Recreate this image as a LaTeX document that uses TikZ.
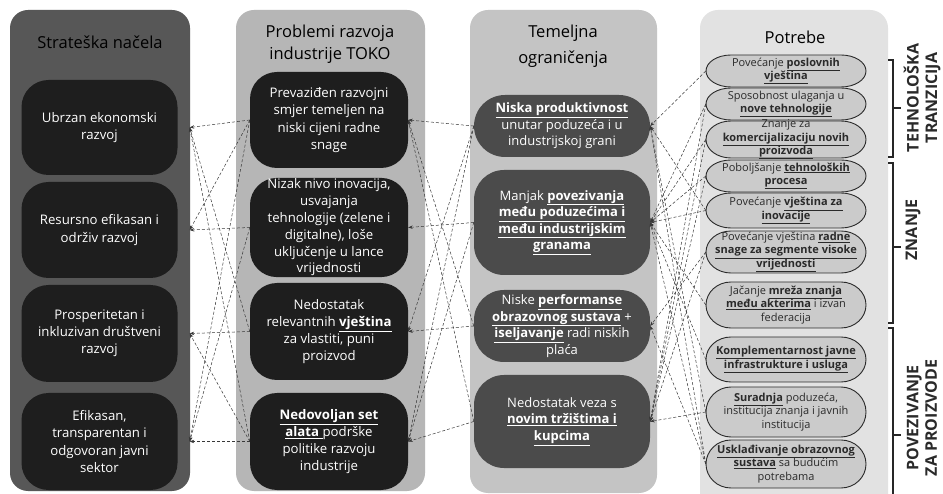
\documentclass[tikz,border=0pt]{standalone}
\usepackage{fontspec}
\setmainfont{Open Sans}
\usetikzlibrary{arrows.meta}
\definecolor{panA}{HTML}{575757}
\definecolor{panB}{HTML}{B6B6B6}
\definecolor{panC}{HTML}{C4C4C4}
\definecolor{panD}{HTML}{E2E2E2}
\definecolor{nodeK}{HTML}{1E1E1E}
\definecolor{nodeM}{HTML}{4B4B4B}
\definecolor{ellF}{HTML}{CBCBCB}
\definecolor{txtD}{HTML}{2A2A2A}
\newcommand\ubf[1]{\textbf{\underline{#1}}}
\newcommand\pillshape[2]{%
  \path[eshape] (731,{#1-#2/2}) -- (841,{#1-#2/2})
    arc[start angle=-90,end angle=90,x radius=25,y radius={#2/2}]
    -- (731,{#1+#2/2})
    arc[start angle=90,end angle=270,x radius=25,y radius={#2/2}] -- cycle;}
\begin{document}
\begin{tikzpicture}[x=1pt,y=-1pt,
  panel/.style={rounded corners=18pt},
  ttl/.style={align=center,font=\fontsize{16.5}{22}\selectfont,text=black},
  darkbox/.style={fill=nodeK,text=white,rounded corners=27pt,align=center,
    minimum width=156pt,inner sep=1pt,font=\fontsize{13.2}{17.2}\selectfont},
  midbox/.style={fill=nodeM,text=white,rounded corners=30pt,align=center,
    minimum width=176pt,inner sep=1pt,font=\fontsize{13}{16.5}\selectfont},
  eshape/.style={fill=ellF,draw=txtD,line width=0.9pt},
  etext/.style={align=center,text=txtD,minimum width=160pt,inner sep=0pt,
    font=\fontsize{11}{13.4}\selectfont},
  con/.style={draw=black!78,line width=0.5pt,densely dashed,
    -{Stealth[length=4.5pt,width=3.4pt]}},
  brk/.style={draw=black!85,line width=1.1pt},
  side/.style={align=center,rotate=90,text=txtD,
    font=\fontsize{16}{18.5}\selectfont\bfseries}]
\useasboundingbox (0,0) rectangle (943,494);
\fill[white] (0,0) rectangle (943,494);
% panels
\fill[panel,panA] (10,10) rectangle (190,491);
\fill[panel,panB] (236,10) rectangle (425,491);
\fill[panel,panC] (470,10) rectangle (657,493);
\fill[panel,panD] (700,10) rectangle (888,512);
% titles
\node[ttl] (t1) at (100,42) {Strateška načela};
\node[ttl] (t2) at (330,44) {Problemi razvoja\\industrije TOKO};
\node[ttl,font=\fontsize{16.5}{26}\selectfont] (t3) at (563,46) {Temeljna\\ograničenja};
\node[ttl] (t4) at (795,37) {Potrebe};
% column 1
\node[darkbox,minimum height=95pt] (c1n1) at (99.5,127.5) {Ubrzan ekonomski\\razvoj};
\node[darkbox,minimum height=96pt] (c1n2) at (99.5,230) {Resursno efikasan i\\održiv razvoj};
\node[darkbox,minimum height=97pt] (c1n3) at (99.5,333.5) {Prosperitetan i\\inkluzivan društveni\\razvoj};
\node[darkbox,minimum height=97pt] (c1n4) at (99.5,441.5) {Efikasan,\\transparentan i\\odgovoran javni\\sektor};
% column 2
\node[darkbox,minimum width=158pt,minimum height=96pt] (c2n1) at (329,120) {Prevaziđen razvojni\\smjer temeljen na\\niski cijeni radne\\snage};
\node[darkbox,minimum width=158pt,minimum height=99pt,font=\fontsize{13.2}{16.8}\selectfont] (c2n2) at (329,227.5) {Nizak nivo inovacija,\\usvajanja\\tehnologije (zelene i\\digitalne), loše\\uključenje u lance\\vrijednosti};
\node[darkbox,minimum width=158pt,minimum height=97pt] (c2n3) at (329,331.5) {Nedostatak\\relevantnih \ubf{vještina}\\za vlastiti, puni\\proizvod};
\node[darkbox,minimum width=158pt,minimum height=97pt] (c2n4) at (329,441.5) {\ubf{Nedovoljan set}\\\ubf{alata }podrške\\politike razvoju\\industrije};
% column 3
\node[midbox,minimum height=62pt,rounded corners=31pt] (c3n1) at (562,126) {\ubf{Niska produktivnost}\\unutar poduzeća i u\\industrijskoj grani};
\node[midbox,minimum height=105pt] (c3n2) at (562,222.5) {Manjak \ubf{povezivanja}\\\ubf{među poduzećima i}\\\ubf{među industrijskim}\\\ubf{granama}};
\node[midbox,minimum height=72pt] (c3n3) at (562,326) {Niske \ubf{performanse}\\\ubf{obrazovnog sustava} +\\\ubf{iseljavanje} radi niskih\\plaća};
\node[midbox,minimum height=93pt] (c3n4) at (562,421.5) {Nedostatak veza s\\\ubf{novim tržištima i}\\\ubf{kupcima}};
% column 4 shapes
\pillshape{71}{32}
\pillshape{104}{32}
\pillshape{139.5}{37}
\pillshape{176}{32}
\pillshape{210.5}{35}
\pillshape{252}{42}
\pillshape{305}{46}
\pillshape{359.5}{45}
\pillshape{412}{50}
\pillshape{464}{48}
% column 4 texts
\node[etext] (e1) at (786,71) {Povećanje \ubf{poslovnih}\\\ubf{vještina}};
\node[etext] (e2) at (786,104) {Sposobnost ulaganja u\\\ubf{nove tehnologije}};
\node[etext] (e3) at (786,139.5) {Znanje za\\\ubf{komercijalizaciju novih}\\\ubf{proizvoda}};
\node[etext] (e4) at (786,176) {Poboljšanje \ubf{tehnoloških}\\\ubf{procesa}};
\node[etext] (e5) at (786,210.5) {Povećanje \ubf{vještina za}\\\ubf{inovacije}};
\node[etext] (e6) at (786,252) {Povećanje vještina \ubf{radne}\\\ubf{snage za segmente visoke}\\\ubf{vrijednosti}};
\node[etext] (e7) at (786,305) {Jačanje \ubf{mreža znanja}\\\ubf{među akterima} i izvan\\federacija};
\node[etext] (e8) at (786,359.5) {\ubf{Komplementarnost javne}\\\ubf{infrastrukture i usluga}};
\node[etext] (e9) at (786,412) {\ubf{Suradnja} poduzeća,\\institucija znanja i javnih\\institucija};
\node[etext] (e10) at (786,464) {\ubf{Usklađivanje obrazovnog}\\\ubf{sustava} sa budućim\\potrebama};
% brackets
\coordinate (b1a) at (888,60);  \coordinate (b1b) at (888,157);
\coordinate (b2a) at (888,163); \coordinate (b2b) at (888,323);
\coordinate (b3a) at (888,328); \coordinate (b3b) at (893,500);
\draw[brk] (b1a) -| (893,157) -- (b1b);
\draw[brk] (893,108) -- (901,108);
\draw[brk] (b2a) -| (893,323) -- (b2b);
\draw[brk] (893,247) -- (901,247);
\draw[brk] (b3a) -| (b3b);
\draw[brk] (893,435) -- (901,435);
\node[side] (s1) at (922,98) {TEHNOLOŠKA\\TRANZICIJA};
\node[side] (s2) at (913,230) {ZNANJE};
\node[side] (s3) at (922,418) {POVEZIVANJE\\ZA PROIZVODE};
% connectors col2 -> col1
\foreach \a/\b in {c2n1/c1n1,c2n1/c1n2,c2n1/c1n4,c2n2/c1n2,c2n2/c1n4,
  c2n3/c1n1,c2n3/c1n3,c2n4/c1n1,c2n4/c1n3,c2n4/c1n4}
  \draw[con] (\a.west) -- ([xshift=12pt]\b.east);
% connectors col3 -> col2
\foreach \a/\b in {c3n1/c2n1,c3n1/c2n3,c3n1/c2n4,c3n2/c2n2,c3n2/c2n4,
  c3n3/c2n1,c3n3/c2n3,c3n4/c2n1,c3n4/c2n4}
  \draw[con] (\a.west) -- (\b.east);
% connectors col4 -> col3
\foreach \a/\b in {e1/c3n1,e5/c3n1,e9/c3n1,e10/c3n1,
  e2/c3n2,e3/c3n2,e4/c3n2,e5/c3n2,e7/c3n2,e8/c3n2,e10/c3n2,
  e6/c3n3,e10/c3n3,
  e2/c3n4,e3/c3n4,e4/c3n4,e6/c3n4,e9/c3n4}
  \draw[con] (\a.west) -- (\b.east);
\end{tikzpicture}
\end{document}
